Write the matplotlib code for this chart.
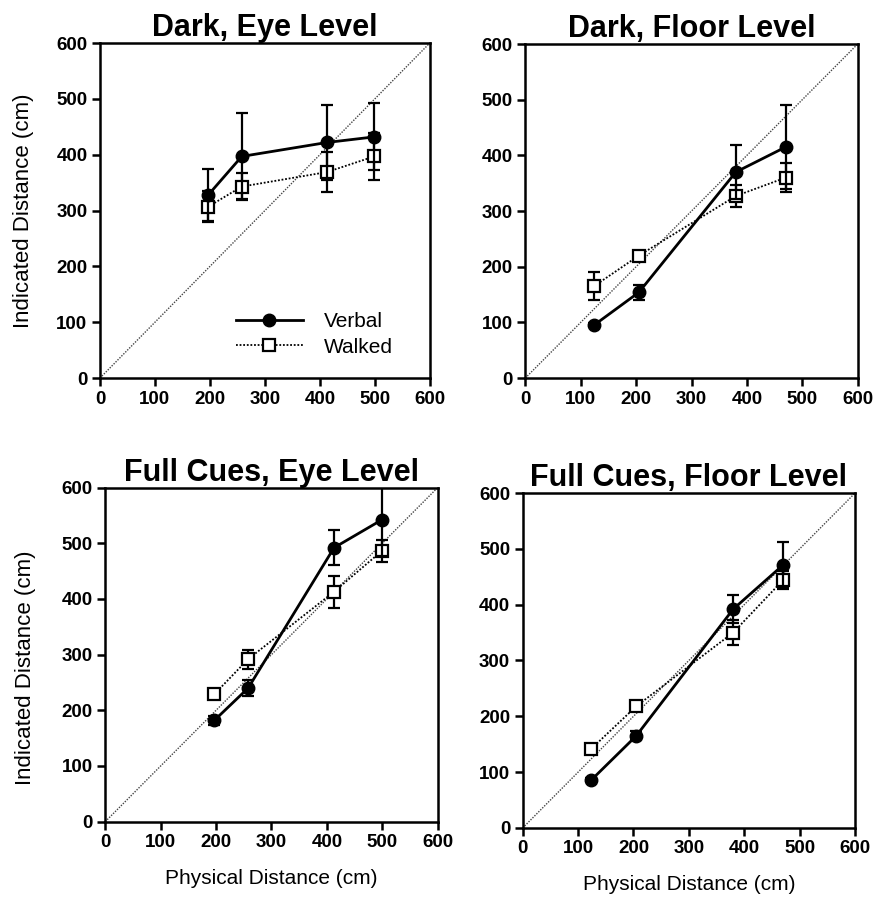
import numpy as np
import matplotlib
matplotlib.use('Agg')
import matplotlib.pyplot as plt
from matplotlib.lines import Line2D

plt.rcParams['font.family'] = ['Liberation Sans', 'DejaVu Sans']

# ── data (cm) ──
eye_x = [197, 258, 413, 499]
floor_x = [124, 205, 380, 470]

titles = ['Dark, Eye Level', 'Dark, Floor Level',
          'Full Cues, Eye Level', 'Full Cues, Floor Level']

dark_eye_verbal = [328, 397, 422, 432]
dark_eye_verbal_err = [47, 77, 67, 60]
dark_eye_walked = [307, 343, 369, 397]
dark_eye_walked_err = [28, 24, 36, 42]

dark_floor_verbal = [95, 154, 370, 415]
dark_floor_verbal_err = [4, 14, 48, 75]
dark_floor_walked = [165, 220, 327, 360]
dark_floor_walked_err = [25, 8, 20, 26]

full_eye_verbal = [182, 240, 492, 542]
full_eye_verbal_err = [8, 14, 31, 65]
full_eye_walked = [229, 292, 413, 486]
full_eye_walked_err = [4, 17, 29, 20]

full_floor_verbal = [86, 165, 392, 471]
full_floor_verbal_err = [3, 8, 25, 41]
full_floor_walked = [142, 218, 350, 444]
full_floor_walked_err = [4, 8, 22, 16]

panels = [
    (eye_x, dark_eye_verbal, dark_eye_verbal_err, dark_eye_walked, dark_eye_walked_err),
    (floor_x, dark_floor_verbal, dark_floor_verbal_err, dark_floor_walked, dark_floor_walked_err),
    (eye_x, full_eye_verbal, full_eye_verbal_err, full_eye_walked, full_eye_walked_err),
    (floor_x, full_floor_verbal, full_floor_verbal_err, full_floor_walked, full_floor_walked_err),
]

# axes rectangles in figure fraction (left, bottom, width, height)
rects = [
    [0.114, 0.579, 0.376, 0.373],
    [0.599, 0.579, 0.379, 0.372],
    [0.120, 0.085, 0.379, 0.372],
    [0.596, 0.078, 0.379, 0.373],
]
ylabel_pos = {0: (-0.20, 0.5), 2: (-0.208, 0.46)}
xlabel_pos = {2: (0.5, -0.143), 3: (0.5, -0.14)}

fig = plt.figure(figsize=(8.77, 8.98), dpi=100)

verbal_kw = dict(color='black', lw=2.0, ls='-', marker='o', ms=9, mfc='black', mec='black')
walked_kw = dict(color='black', lw=1.3, ls=(0, (1, 1)), marker='s', ms=8,
                 mfc='white', mec='black', mew=1.6)

for i, (rect, title, (px, v, ve, w, we)) in enumerate(zip(rects, titles, panels)):
    ax = fig.add_axes(rect)
    ax.plot([0, 600], [0, 600], color='#444444', lw=1.0, ls=(0, (1, 1)), zorder=1)

    ax.errorbar(px, w, yerr=we, elinewidth=1.6, capsize=4, capthick=1.6,
                zorder=3, **walked_kw)
    ax.errorbar(px, v, yerr=ve, elinewidth=1.6, capsize=4, capthick=1.6,
                zorder=4, **verbal_kw)

    ax.set_xlim(0, 600)
    ax.set_ylim(0, 600)
    ax.set_xticks(np.arange(0, 601, 100))
    ax.set_yticks(np.arange(0, 601, 100))
    ax.tick_params(direction='out', length=6, width=1.8, labelsize=13.5, pad=3)
    for lab in ax.get_xticklabels() + ax.get_yticklabels():
        lab.set_fontweight('bold')
    for sp in ax.spines.values():
        sp.set_linewidth(1.8)
    ax.set_title(title, fontsize=22, fontweight='bold', pad=5)

    if i in ylabel_pos:
        ax.set_ylabel('Indicated Distance (cm)', fontsize=16)
        ax.yaxis.set_label_coords(*ylabel_pos[i])
    if i in xlabel_pos:
        ax.set_xlabel('Physical Distance (cm)', fontsize=15)
        ax.xaxis.set_label_coords(*xlabel_pos[i])

    if i == 0:
        handles = [Line2D([], [], **verbal_kw), Line2D([], [], **walked_kw)]
        ax.legend(handles, ['Verbal', 'Walked'], loc='center', bbox_to_anchor=(0.65, 0.13),
                  frameon=False, fontsize=15, handlelength=3.2,
                  handletextpad=1.0, labelspacing=0.3)

fig.savefig('out.png', dpi=100, facecolor='white')
plt.close(fig)
